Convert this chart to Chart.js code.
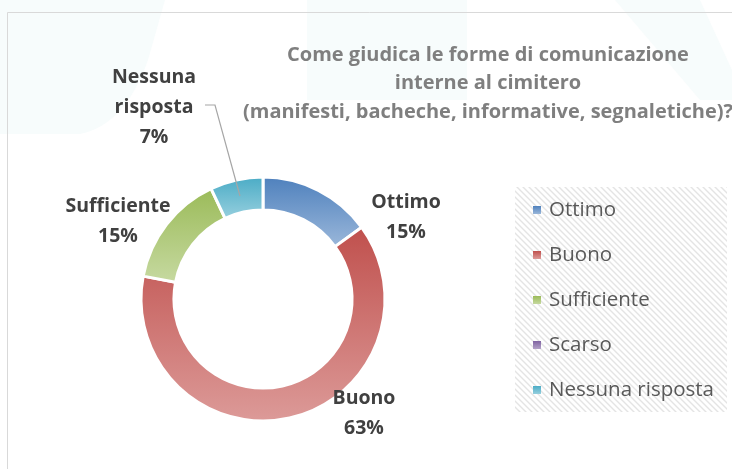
<!DOCTYPE html>
<html>
<head>
<meta charset="utf-8">
<script src="https://cdn.jsdelivr.net/npm/chart.js@4.4.0/dist/chart.umd.min.js"></script>
<style>
  html, body { margin: 0; padding: 0; background: #fff; }
  #wrap { width: 732px; height: 469px; }
</style>
</head>
<body>
<div id="wrap"><canvas id="myChart" width="732" height="469"></canvas></div>
<script>
// data
const categories = ['Ottimo', 'Buono', 'Sufficiente', 'Scarso', 'Nessuna risposta'];
const percentages = [15, 63, 15, 0, 7];
const titleLines = [
  'Come giudica le forme di comunicazione',
  'interne al cimitero',
  '(manifesti, bacheche, informative, segnaletiche)?'
];

// colours (top -> bottom of each slice)
const sliceColors = [
  ['#4f81bd', '#9ab7da'],
  ['#c0504d', '#dc9a98'],
  ['#9bbb59', '#c6d9a0'],
  ['#8064a2', '#b3a2c7'],
  ['#4bacc6', '#96cfde']
];

// where the data labels sit, relative to the doughnut centre
const labelOffsets = [[143, -82], [101, 114], [-145, -78], null, [-109, -192]];
const labelWraps = { 'Nessuna risposta': ['Nessuna', 'risposta'] };

const BORDER = 3;
const CUT = 0.73;

function ringGeometry(chart) {
  const area = chart.chartArea;
  const cx = (area.left + area.right) / 2;
  const cy = (area.top + area.bottom) / 2;
  const r = (Math.min(area.width, area.height) - BORDER) / 2;
  return { cx, cy, r, ri: r * CUT };
}

function sliceGradient(context) {
  const chart = context.chart;
  const i = context.dataIndex;
  const pair = sliceColors[i] || sliceColors[0];
  if (!chart.chartArea || i === undefined) return pair[0];
  const { cy, r, ri } = ringGeometry(chart);
  const total = percentages.reduce((a, b) => a + b, 0);
  let start = 0;
  for (let k = 0; k < i; k++) start += percentages[k];
  const a0 = start / total * Math.PI * 2 - Math.PI / 2;
  const a1 = (start + percentages[i]) / total * Math.PI * 2 - Math.PI / 2;
  let minY = Infinity, maxY = -Infinity;
  for (let t = 0; t <= 60; t++) {
    const a = a0 + (a1 - a0) * t / 60;
    [r, ri].forEach(rr => {
      const y = cy + rr * Math.sin(a);
      minY = Math.min(minY, y);
      maxY = Math.max(maxY, y);
    });
  }
  if (maxY - minY < 1) return pair[0];
  const g = chart.ctx.createLinearGradient(0, minY, 0, maxY);
  g.addColorStop(0, pair[0]);
  g.addColorStop(1, pair[1]);
  return g;
}

function hatchPattern(ctx) {
  const c = document.createElement('canvas');
  c.width = 6; c.height = 6;
  const g = c.getContext('2d');
  g.fillStyle = '#ffffff';
  g.fillRect(0, 0, 6, 6);
  g.strokeStyle = '#e4e4e4';
  g.lineWidth = 1.4;
  g.beginPath();
  g.moveTo(0, 0); g.lineTo(6, 6);
  g.moveTo(-3, 3); g.lineTo(3, 9);
  g.moveTo(3, -3); g.lineTo(9, 3);
  g.stroke();
  return ctx.createPattern(c, 'repeat');
}

// frame + faint background shapes
const backdrop = {
  id: 'backdrop',
  beforeDraw(chart) {
    const ctx = chart.ctx;
    ctx.save();
    ctx.fillStyle = '#ffffff';
    ctx.fillRect(0, 0, chart.width, chart.height);

    // pale watermark shapes behind the chart
    ctx.fillStyle = '#f7fcfc';
    ctx.beginPath();
    ctx.moveTo(0, 0);
    ctx.lineTo(165, 0);
    ctx.lineTo(148, 60);
    ctx.quadraticCurveTo(125, 125, 80, 134);
    ctx.lineTo(0, 134);
    ctx.closePath();
    ctx.fill();
    ctx.fillRect(307, 0, 160, 100);
    ctx.beginPath();
    ctx.moveTo(615, 0);
    ctx.lineTo(700, 0);
    ctx.lineTo(732, 70);
    ctx.lineTo(732, 100);
    ctx.lineTo(700, 100);
    ctx.closePath();
    ctx.fill();

    ctx.strokeStyle = '#d9d9d9';
    ctx.lineWidth = 1;
    ctx.beginPath();
    ctx.moveTo(7.5, chart.height);
    ctx.lineTo(7.5, 12.5);
    ctx.lineTo(chart.width, 12.5);
    ctx.stroke();
    ctx.restore();
  }
};

// title, data labels, leader line and legend
const decorations = {
  id: 'decorations',
  afterDatasetsDraw(chart) {
    const ctx = chart.ctx;
    const meta = chart.getDatasetMeta(0);
    ctx.save();
    ctx.textAlign = 'center';
    ctx.textBaseline = 'middle';

    // title
    ctx.fillStyle = '#7f7f7f';
    ctx.font = 'bold 20px "Open Sans"';
    const titleWidths = [404, 192, 490];
    titleLines.forEach((line, k) => {
      ctx.fillText(line, 488, 55 + k * 28.5, titleWidths[k]);
    });

    // data labels
    ctx.fillStyle = '#404040';
    ctx.font = 'bold 19.5px "Open Sans"';
    meta.data.forEach((arc, i) => {
      const off = labelOffsets[i];
      if (!off || !percentages[i]) return;
      const { x, y } = arc.getProps(['x', 'y'], true);
      const lines = (labelWraps[categories[i]] || [categories[i]]).concat(percentages[i] + '%');
      const lx = x + off[0];
      const ly = y + off[1];
      const top = ly - (lines.length - 1) * 30 / 2;
      lines.forEach((t, k) => ctx.fillText(t, lx, top + k * 30));

      if (lines.length > 2) {
        // leader line to the slice
        const p = arc.getCenterPoint();
        ctx.strokeStyle = '#a6a6a6';
        ctx.lineWidth = 1.2;
        ctx.beginPath();
        ctx.moveTo(lx + 51, ly - 2);
        ctx.lineTo(lx + 61, ly - 2);
        ctx.lineTo(p.x, p.y);
        ctx.stroke();
      }
    });

    // legend
    const lx = 515, ly = 187, lw = 212, lh = 225;
    ctx.fillStyle = hatchPattern(ctx);
    ctx.fillRect(lx, ly, lw, lh);
    ctx.textAlign = 'left';
    ctx.font = '20.5px "Open Sans"';
    categories.forEach((name, i) => {
      const cy = 210 + i * 45;
      const g = ctx.createLinearGradient(0, cy - 4, 0, cy + 4);
      g.addColorStop(0, sliceColors[i][0]);
      g.addColorStop(1, sliceColors[i][1]);
      ctx.fillStyle = g;
      ctx.fillRect(533, cy - 4, 8, 8);
      ctx.fillStyle = '#595959';
      ctx.fillText(name, 549, cy, 166);
    });
    ctx.restore();
  }
};

const ctx = document.getElementById('myChart');
new Chart(ctx, {
  type: 'doughnut',
  data: {
    labels: categories,
    datasets: [{
      data: percentages,
      backgroundColor: sliceGradient,
      borderColor: '#ffffff',
      borderWidth: BORDER,
      hoverBorderWidth: BORDER,
      hoverOffset: 0
    }]
  },
  options: {
    responsive: false,
    animation: false,
    events: [],
    cutout: (CUT * 100) + '%',
    layout: {
      padding: { left: 139.5, right: 345.5, top: 175.5, bottom: 46.5 }
    },
    plugins: {
      legend: { display: false },
      tooltip: { enabled: false },
      title: { display: false }
    }
  },
  plugins: [backdrop, decorations]
});
</script>
</body>
</html>
